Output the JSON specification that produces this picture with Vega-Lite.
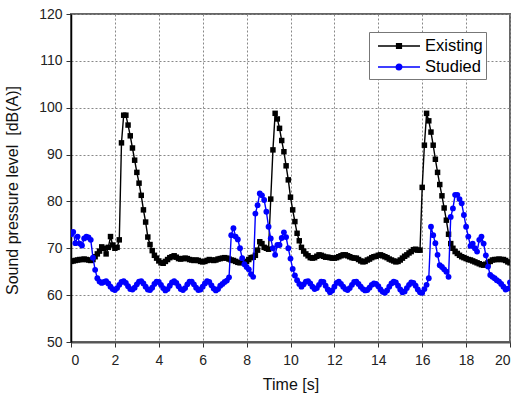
{
  "$schema": "https://vega.github.io/schema/vega-lite/v6.json",
  "width": 439,
  "height": 328,
  "autosize": {"type": "none"},
  "padding": {"left": 71, "top": 14, "right": 21, "bottom": 55},
  "background": "white",
  "config": {
    "font": "Liberation Sans",
    "view": {"stroke": "#666666", "strokeWidth": 2},
    "axis": {
      "grid": true,
      "gridDash": [2, 2],
      "gridColor": "#888888",
      "gridWidth": 1,
      "tickColor": "#333333",
      "tickSize": 5,
      "labelFontSize": 14,
      "labelColor": "#222222",
      "titleFontSize": 16,
      "titleFontWeight": "normal",
      "titleColor": "#111111"
    }
  },
  "datasets": {
    "rows": [
{"t":0.0,"spl":67.2,"series":"Existing"},{"t":0.1,"spl":67.3,"series":"Existing"},{"t":0.2,"spl":67.4,"series":"Existing"},{"t":0.3,"spl":67.5,"series":"Existing"},{"t":0.4,"spl":67.6,"series":"Existing"},{"t":0.5,"spl":67.6,"series":"Existing"},{"t":0.6,"spl":67.7,"series":"Existing"},{"t":0.7,"spl":67.6,"series":"Existing"},{"t":0.8,"spl":67.5,"series":"Existing"},{"t":0.9,"spl":67.4,"series":"Existing"},
{"t":1.0,"spl":67.6,"series":"Existing"},{"t":1.1,"spl":68.2,"series":"Existing"},{"t":1.2,"spl":68.8,"series":"Existing"},{"t":1.3,"spl":69.4,"series":"Existing"},{"t":1.4,"spl":70.3,"series":"Existing"},{"t":1.5,"spl":70.0,"series":"Existing"},{"t":1.6,"spl":68.8,"series":"Existing"},{"t":1.7,"spl":70.2,"series":"Existing"},{"t":1.8,"spl":72.5,"series":"Existing"},{"t":1.9,"spl":70.7,"series":"Existing"},
{"t":2.0,"spl":70.0,"series":"Existing"},{"t":2.1,"spl":70.2,"series":"Existing"},{"t":2.2,"spl":71.8,"series":"Existing"},{"t":2.3,"spl":92.5,"series":"Existing"},{"t":2.4,"spl":98.4,"series":"Existing"},{"t":2.5,"spl":98.4,"series":"Existing"},{"t":2.6,"spl":96.3,"series":"Existing"},{"t":2.7,"spl":94.0,"series":"Existing"},{"t":2.8,"spl":91.4,"series":"Existing"},{"t":2.9,"spl":88.8,"series":"Existing"},
{"t":3.0,"spl":86.2,"series":"Existing"},{"t":3.1,"spl":83.9,"series":"Existing"},{"t":3.2,"spl":81.3,"series":"Existing"},{"t":3.3,"spl":78.2,"series":"Existing"},{"t":3.4,"spl":75.6,"series":"Existing"},{"t":3.5,"spl":72.4,"series":"Existing"},{"t":3.6,"spl":70.8,"series":"Existing"},{"t":3.7,"spl":69.5,"series":"Existing"},{"t":3.8,"spl":68.5,"series":"Existing"},{"t":3.9,"spl":67.9,"series":"Existing"},
{"t":4.0,"spl":67.3,"series":"Existing"},{"t":4.1,"spl":66.9,"series":"Existing"},{"t":4.2,"spl":66.8,"series":"Existing"},{"t":4.3,"spl":67.2,"series":"Existing"},{"t":4.4,"spl":67.6,"series":"Existing"},{"t":4.5,"spl":68.0,"series":"Existing"},{"t":4.6,"spl":68.2,"series":"Existing"},{"t":4.7,"spl":68.4,"series":"Existing"},{"t":4.8,"spl":68.1,"series":"Existing"},{"t":4.9,"spl":67.8,"series":"Existing"},
{"t":5.0,"spl":67.7,"series":"Existing"},{"t":5.1,"spl":67.8,"series":"Existing"},{"t":5.2,"spl":67.9,"series":"Existing"},{"t":5.3,"spl":67.8,"series":"Existing"},{"t":5.4,"spl":67.6,"series":"Existing"},{"t":5.5,"spl":67.5,"series":"Existing"},{"t":5.6,"spl":67.4,"series":"Existing"},{"t":5.7,"spl":67.5,"series":"Existing"},{"t":5.8,"spl":67.4,"series":"Existing"},{"t":5.9,"spl":67.2,"series":"Existing"},
{"t":6.0,"spl":67.1,"series":"Existing"},{"t":6.1,"spl":67.2,"series":"Existing"},{"t":6.2,"spl":67.4,"series":"Existing"},{"t":6.3,"spl":67.6,"series":"Existing"},{"t":6.4,"spl":67.5,"series":"Existing"},{"t":6.5,"spl":67.4,"series":"Existing"},{"t":6.6,"spl":67.5,"series":"Existing"},{"t":6.7,"spl":67.7,"series":"Existing"},{"t":6.8,"spl":67.8,"series":"Existing"},{"t":6.9,"spl":67.9,"series":"Existing"},
{"t":7.0,"spl":68.0,"series":"Existing"},{"t":7.1,"spl":67.9,"series":"Existing"},{"t":7.2,"spl":67.7,"series":"Existing"},{"t":7.3,"spl":67.5,"series":"Existing"},{"t":7.4,"spl":67.4,"series":"Existing"},{"t":7.5,"spl":67.2,"series":"Existing"},{"t":7.6,"spl":67.0,"series":"Existing"},{"t":7.7,"spl":66.9,"series":"Existing"},{"t":7.8,"spl":67.0,"series":"Existing"},{"t":7.9,"spl":67.1,"series":"Existing"},
{"t":8.0,"spl":67.2,"series":"Existing"},{"t":8.1,"spl":67.6,"series":"Existing"},{"t":8.2,"spl":68.0,"series":"Existing"},{"t":8.3,"spl":68.1,"series":"Existing"},{"t":8.4,"spl":68.5,"series":"Existing"},{"t":8.5,"spl":69.6,"series":"Existing"},{"t":8.6,"spl":71.4,"series":"Existing"},{"t":8.7,"spl":71.0,"series":"Existing"},{"t":8.8,"spl":70.2,"series":"Existing"},{"t":8.9,"spl":70.0,"series":"Existing"},
{"t":9.0,"spl":69.8,"series":"Existing"},{"t":9.1,"spl":80.5,"series":"Existing"},{"t":9.2,"spl":91.0,"series":"Existing"},{"t":9.3,"spl":98.8,"series":"Existing"},{"t":9.4,"spl":97.6,"series":"Existing"},{"t":9.5,"spl":95.6,"series":"Existing"},{"t":9.6,"spl":93.0,"series":"Existing"},{"t":9.7,"spl":90.6,"series":"Existing"},{"t":9.8,"spl":87.6,"series":"Existing"},{"t":9.9,"spl":84.6,"series":"Existing"},
{"t":10.0,"spl":80.9,"series":"Existing"},{"t":10.1,"spl":78.2,"series":"Existing"},{"t":10.2,"spl":75.7,"series":"Existing"},{"t":10.3,"spl":73.2,"series":"Existing"},{"t":10.4,"spl":71.6,"series":"Existing"},{"t":10.5,"spl":70.2,"series":"Existing"},{"t":10.6,"spl":69.4,"series":"Existing"},{"t":10.7,"spl":68.8,"series":"Existing"},{"t":10.8,"spl":68.4,"series":"Existing"},{"t":10.9,"spl":68.0,"series":"Existing"},
{"t":11.0,"spl":67.9,"series":"Existing"},{"t":11.1,"spl":68.0,"series":"Existing"},{"t":11.2,"spl":68.3,"series":"Existing"},{"t":11.3,"spl":68.6,"series":"Existing"},{"t":11.4,"spl":68.5,"series":"Existing"},{"t":11.5,"spl":68.3,"series":"Existing"},{"t":11.6,"spl":68.1,"series":"Existing"},{"t":11.7,"spl":68.1,"series":"Existing"},{"t":11.8,"spl":68.0,"series":"Existing"},{"t":11.9,"spl":67.9,"series":"Existing"},
{"t":12.0,"spl":67.9,"series":"Existing"},{"t":12.1,"spl":68.0,"series":"Existing"},{"t":12.2,"spl":68.2,"series":"Existing"},{"t":12.3,"spl":68.4,"series":"Existing"},{"t":12.4,"spl":68.6,"series":"Existing"},{"t":12.5,"spl":68.6,"series":"Existing"},{"t":12.6,"spl":68.4,"series":"Existing"},{"t":12.7,"spl":68.2,"series":"Existing"},{"t":12.8,"spl":68.0,"series":"Existing"},{"t":12.9,"spl":67.9,"series":"Existing"},
{"t":13.0,"spl":67.9,"series":"Existing"},{"t":13.1,"spl":67.6,"series":"Existing"},{"t":13.2,"spl":67.3,"series":"Existing"},{"t":13.3,"spl":67.1,"series":"Existing"},{"t":13.4,"spl":67.2,"series":"Existing"},{"t":13.5,"spl":67.5,"series":"Existing"},{"t":13.6,"spl":67.7,"series":"Existing"},{"t":13.7,"spl":68.0,"series":"Existing"},{"t":13.8,"spl":68.2,"series":"Existing"},{"t":13.9,"spl":68.3,"series":"Existing"},
{"t":14.0,"spl":68.5,"series":"Existing"},{"t":14.1,"spl":68.6,"series":"Existing"},{"t":14.2,"spl":68.4,"series":"Existing"},{"t":14.3,"spl":68.2,"series":"Existing"},{"t":14.4,"spl":68.0,"series":"Existing"},{"t":14.5,"spl":67.7,"series":"Existing"},{"t":14.6,"spl":67.5,"series":"Existing"},{"t":14.7,"spl":67.3,"series":"Existing"},{"t":14.8,"spl":67.1,"series":"Existing"},{"t":14.9,"spl":67.2,"series":"Existing"},
{"t":15.0,"spl":67.5,"series":"Existing"},{"t":15.1,"spl":67.9,"series":"Existing"},{"t":15.2,"spl":68.3,"series":"Existing"},{"t":15.3,"spl":68.6,"series":"Existing"},{"t":15.4,"spl":69.0,"series":"Existing"},{"t":15.5,"spl":69.3,"series":"Existing"},{"t":15.6,"spl":69.7,"series":"Existing"},{"t":15.7,"spl":69.8,"series":"Existing"},{"t":15.8,"spl":69.6,"series":"Existing"},{"t":15.9,"spl":69.6,"series":"Existing"},
{"t":16.0,"spl":83.0,"series":"Existing"},{"t":16.1,"spl":92.0,"series":"Existing"},{"t":16.2,"spl":98.8,"series":"Existing"},{"t":16.3,"spl":97.2,"series":"Existing"},{"t":16.4,"spl":94.8,"series":"Existing"},{"t":16.5,"spl":92.0,"series":"Existing"},{"t":16.6,"spl":89.0,"series":"Existing"},{"t":16.7,"spl":86.2,"series":"Existing"},{"t":16.8,"spl":83.6,"series":"Existing"},{"t":16.9,"spl":81.2,"series":"Existing"},
{"t":17.0,"spl":78.6,"series":"Existing"},{"t":17.1,"spl":76.0,"series":"Existing"},{"t":17.2,"spl":73.0,"series":"Existing"},{"t":17.3,"spl":71.0,"series":"Existing"},{"t":17.4,"spl":70.0,"series":"Existing"},{"t":17.5,"spl":69.3,"series":"Existing"},{"t":17.6,"spl":68.9,"series":"Existing"},{"t":17.7,"spl":68.5,"series":"Existing"},{"t":17.8,"spl":68.2,"series":"Existing"},{"t":17.9,"spl":68.0,"series":"Existing"},
{"t":18.0,"spl":67.8,"series":"Existing"},{"t":18.1,"spl":67.6,"series":"Existing"},{"t":18.2,"spl":67.5,"series":"Existing"},{"t":18.3,"spl":67.3,"series":"Existing"},{"t":18.4,"spl":67.1,"series":"Existing"},{"t":18.5,"spl":66.9,"series":"Existing"},{"t":18.6,"spl":66.7,"series":"Existing"},{"t":18.7,"spl":66.5,"series":"Existing"},{"t":18.8,"spl":66.4,"series":"Existing"},{"t":18.9,"spl":66.6,"series":"Existing"},
{"t":19.0,"spl":66.9,"series":"Existing"},{"t":19.1,"spl":67.2,"series":"Existing"},{"t":19.2,"spl":67.5,"series":"Existing"},{"t":19.3,"spl":67.6,"series":"Existing"},{"t":19.4,"spl":67.6,"series":"Existing"},{"t":19.5,"spl":67.7,"series":"Existing"},{"t":19.6,"spl":67.6,"series":"Existing"},{"t":19.7,"spl":67.6,"series":"Existing"},{"t":19.8,"spl":67.4,"series":"Existing"},{"t":19.9,"spl":67.1,"series":"Existing"},
{"t":20.0,"spl":66.9,"series":"Existing"},
{"t":0.0,"spl":73.0,"series":"Studied"},{"t":0.1,"spl":73.5,"series":"Studied"},{"t":0.2,"spl":71.1,"series":"Studied"},{"t":0.3,"spl":72.5,"series":"Studied"},{"t":0.4,"spl":71.0,"series":"Studied"},{"t":0.5,"spl":70.6,"series":"Studied"},{"t":0.6,"spl":72.1,"series":"Studied"},{"t":0.7,"spl":72.5,"series":"Studied"},{"t":0.8,"spl":72.3,"series":"Studied"},{"t":0.9,"spl":71.8,"series":"Studied"},
{"t":1.0,"spl":68.0,"series":"Studied"},{"t":1.1,"spl":65.4,"series":"Studied"},{"t":1.2,"spl":63.6,"series":"Studied"},{"t":1.3,"spl":62.9,"series":"Studied"},{"t":1.4,"spl":62.6,"series":"Studied"},{"t":1.5,"spl":62.8,"series":"Studied"},{"t":1.6,"spl":63.0,"series":"Studied"},{"t":1.7,"spl":62.5,"series":"Studied"},{"t":1.8,"spl":61.8,"series":"Studied"},{"t":1.9,"spl":61.3,"series":"Studied"},
{"t":2.0,"spl":61.1,"series":"Studied"},{"t":2.1,"spl":61.5,"series":"Studied"},{"t":2.2,"spl":62.2,"series":"Studied"},{"t":2.3,"spl":62.8,"series":"Studied"},{"t":2.4,"spl":63.0,"series":"Studied"},{"t":2.5,"spl":62.6,"series":"Studied"},{"t":2.6,"spl":61.9,"series":"Studied"},{"t":2.7,"spl":61.3,"series":"Studied"},{"t":2.8,"spl":61.2,"series":"Studied"},{"t":2.9,"spl":61.6,"series":"Studied"},
{"t":3.0,"spl":62.3,"series":"Studied"},{"t":3.1,"spl":62.9,"series":"Studied"},{"t":3.2,"spl":63.0,"series":"Studied"},{"t":3.3,"spl":62.5,"series":"Studied"},{"t":3.4,"spl":61.8,"series":"Studied"},{"t":3.5,"spl":61.2,"series":"Studied"},{"t":3.6,"spl":61.1,"series":"Studied"},{"t":3.7,"spl":61.6,"series":"Studied"},{"t":3.8,"spl":62.4,"series":"Studied"},{"t":3.9,"spl":62.9,"series":"Studied"},
{"t":4.0,"spl":62.8,"series":"Studied"},{"t":4.1,"spl":62.2,"series":"Studied"},{"t":4.2,"spl":61.5,"series":"Studied"},{"t":4.3,"spl":61.0,"series":"Studied"},{"t":4.4,"spl":61.3,"series":"Studied"},{"t":4.5,"spl":62.0,"series":"Studied"},{"t":4.6,"spl":62.7,"series":"Studied"},{"t":4.7,"spl":63.0,"series":"Studied"},{"t":4.8,"spl":62.6,"series":"Studied"},{"t":4.9,"spl":61.9,"series":"Studied"},
{"t":5.0,"spl":61.3,"series":"Studied"},{"t":5.1,"spl":61.1,"series":"Studied"},{"t":5.2,"spl":61.5,"series":"Studied"},{"t":5.3,"spl":62.3,"series":"Studied"},{"t":5.4,"spl":62.9,"series":"Studied"},{"t":5.5,"spl":62.9,"series":"Studied"},{"t":5.6,"spl":62.3,"series":"Studied"},{"t":5.7,"spl":61.6,"series":"Studied"},{"t":5.8,"spl":61.1,"series":"Studied"},{"t":5.9,"spl":61.2,"series":"Studied"},
{"t":6.0,"spl":61.8,"series":"Studied"},{"t":6.1,"spl":62.5,"series":"Studied"},{"t":6.2,"spl":63.0,"series":"Studied"},{"t":6.3,"spl":62.8,"series":"Studied"},{"t":6.4,"spl":62.1,"series":"Studied"},{"t":6.5,"spl":61.4,"series":"Studied"},{"t":6.6,"spl":61.0,"series":"Studied"},{"t":6.7,"spl":61.3,"series":"Studied"},{"t":6.8,"spl":62.0,"series":"Studied"},{"t":6.9,"spl":62.4,"series":"Studied"},
{"t":7.0,"spl":62.8,"series":"Studied"},{"t":7.1,"spl":63.1,"series":"Studied"},{"t":7.2,"spl":63.8,"series":"Studied"},{"t":7.3,"spl":72.8,"series":"Studied"},{"t":7.4,"spl":74.3,"series":"Studied"},{"t":7.5,"spl":72.5,"series":"Studied"},{"t":7.6,"spl":71.9,"series":"Studied"},{"t":7.7,"spl":70.0,"series":"Studied"},{"t":7.8,"spl":67.9,"series":"Studied"},{"t":7.9,"spl":66.6,"series":"Studied"},
{"t":8.0,"spl":66.0,"series":"Studied"},{"t":8.1,"spl":65.5,"series":"Studied"},{"t":8.2,"spl":64.5,"series":"Studied"},{"t":8.3,"spl":63.9,"series":"Studied"},{"t":8.4,"spl":77.4,"series":"Studied"},{"t":8.5,"spl":79.2,"series":"Studied"},{"t":8.6,"spl":81.7,"series":"Studied"},{"t":8.7,"spl":81.3,"series":"Studied"},{"t":8.8,"spl":80.3,"series":"Studied"},{"t":8.9,"spl":77.8,"series":"Studied"},
{"t":9.0,"spl":74.6,"series":"Studied"},{"t":9.1,"spl":72.1,"series":"Studied"},{"t":9.2,"spl":70.0,"series":"Studied"},{"t":9.3,"spl":68.6,"series":"Studied"},{"t":9.4,"spl":70.7,"series":"Studied"},{"t":9.5,"spl":70.7,"series":"Studied"},{"t":9.6,"spl":72.2,"series":"Studied"},{"t":9.7,"spl":73.4,"series":"Studied"},{"t":9.8,"spl":72.4,"series":"Studied"},{"t":9.9,"spl":70.0,"series":"Studied"},
{"t":10.0,"spl":67.8,"series":"Studied"},{"t":10.1,"spl":65.6,"series":"Studied"},{"t":10.2,"spl":64.2,"series":"Studied"},{"t":10.3,"spl":63.2,"series":"Studied"},{"t":10.4,"spl":62.4,"series":"Studied"},{"t":10.5,"spl":61.8,"series":"Studied"},{"t":10.6,"spl":62.3,"series":"Studied"},{"t":10.7,"spl":62.9,"series":"Studied"},{"t":10.8,"spl":63.0,"series":"Studied"},{"t":10.9,"spl":62.5,"series":"Studied"},
{"t":11.0,"spl":61.8,"series":"Studied"},{"t":11.1,"spl":61.3,"series":"Studied"},{"t":11.2,"spl":61.5,"series":"Studied"},{"t":11.3,"spl":62.2,"series":"Studied"},{"t":11.4,"spl":62.9,"series":"Studied"},{"t":11.5,"spl":62.8,"series":"Studied"},{"t":11.6,"spl":62.0,"series":"Studied"},{"t":11.7,"spl":61.2,"series":"Studied"},{"t":11.8,"spl":60.6,"series":"Studied"},{"t":11.9,"spl":61.0,"series":"Studied"},
{"t":12.0,"spl":61.8,"series":"Studied"},{"t":12.1,"spl":62.6,"series":"Studied"},{"t":12.2,"spl":62.9,"series":"Studied"},{"t":12.3,"spl":62.4,"series":"Studied"},{"t":12.4,"spl":61.8,"series":"Studied"},{"t":12.5,"spl":61.3,"series":"Studied"},{"t":12.6,"spl":61.1,"series":"Studied"},{"t":12.7,"spl":61.5,"series":"Studied"},{"t":12.8,"spl":62.2,"series":"Studied"},{"t":12.9,"spl":62.8,"series":"Studied"},
{"t":13.0,"spl":62.9,"series":"Studied"},{"t":13.1,"spl":62.4,"series":"Studied"},{"t":13.2,"spl":61.8,"series":"Studied"},{"t":13.3,"spl":61.3,"series":"Studied"},{"t":13.4,"spl":61.0,"series":"Studied"},{"t":13.5,"spl":61.1,"series":"Studied"},{"t":13.6,"spl":61.6,"series":"Studied"},{"t":13.7,"spl":62.2,"series":"Studied"},{"t":13.8,"spl":62.5,"series":"Studied"},{"t":13.9,"spl":62.4,"series":"Studied"},
{"t":14.0,"spl":61.9,"series":"Studied"},{"t":14.1,"spl":61.2,"series":"Studied"},{"t":14.2,"spl":60.7,"series":"Studied"},{"t":14.3,"spl":60.5,"series":"Studied"},{"t":14.4,"spl":61.0,"series":"Studied"},{"t":14.5,"spl":61.8,"series":"Studied"},{"t":14.6,"spl":62.5,"series":"Studied"},{"t":14.7,"spl":62.9,"series":"Studied"},{"t":14.8,"spl":62.7,"series":"Studied"},{"t":14.9,"spl":62.0,"series":"Studied"},
{"t":15.0,"spl":61.2,"series":"Studied"},{"t":15.1,"spl":60.6,"series":"Studied"},{"t":15.2,"spl":60.8,"series":"Studied"},{"t":15.3,"spl":61.5,"series":"Studied"},{"t":15.4,"spl":62.2,"series":"Studied"},{"t":15.5,"spl":62.7,"series":"Studied"},{"t":15.6,"spl":62.6,"series":"Studied"},{"t":15.7,"spl":62.0,"series":"Studied"},{"t":15.8,"spl":61.2,"series":"Studied"},{"t":15.9,"spl":60.6,"series":"Studied"},
{"t":16.0,"spl":60.5,"series":"Studied"},{"t":16.1,"spl":61.3,"series":"Studied"},{"t":16.2,"spl":62.2,"series":"Studied"},{"t":16.3,"spl":63.6,"series":"Studied"},{"t":16.4,"spl":74.6,"series":"Studied"},{"t":16.5,"spl":72.8,"series":"Studied"},{"t":16.6,"spl":71.1,"series":"Studied"},{"t":16.7,"spl":68.6,"series":"Studied"},{"t":16.8,"spl":66.4,"series":"Studied"},{"t":16.9,"spl":66.0,"series":"Studied"},
{"t":17.0,"spl":65.5,"series":"Studied"},{"t":17.1,"spl":65.0,"series":"Studied"},{"t":17.2,"spl":63.9,"series":"Studied"},{"t":17.3,"spl":76.7,"series":"Studied"},{"t":17.4,"spl":78.5,"series":"Studied"},{"t":17.5,"spl":81.4,"series":"Studied"},{"t":17.6,"spl":81.4,"series":"Studied"},{"t":17.7,"spl":80.5,"series":"Studied"},{"t":17.8,"spl":79.6,"series":"Studied"},{"t":17.9,"spl":77.1,"series":"Studied"},
{"t":18.0,"spl":74.6,"series":"Studied"},{"t":18.1,"spl":72.5,"series":"Studied"},{"t":18.2,"spl":70.5,"series":"Studied"},{"t":18.3,"spl":71.0,"series":"Studied"},{"t":18.4,"spl":70.0,"series":"Studied"},{"t":18.5,"spl":69.3,"series":"Studied"},{"t":18.6,"spl":71.8,"series":"Studied"},{"t":18.7,"spl":72.5,"series":"Studied"},{"t":18.8,"spl":71.0,"series":"Studied"},{"t":18.9,"spl":68.5,"series":"Studied"},
{"t":19.0,"spl":66.1,"series":"Studied"},{"t":19.1,"spl":64.3,"series":"Studied"},{"t":19.2,"spl":63.9,"series":"Studied"},{"t":19.3,"spl":63.6,"series":"Studied"},{"t":19.4,"spl":63.2,"series":"Studied"},{"t":19.5,"spl":62.9,"series":"Studied"},{"t":19.6,"spl":62.4,"series":"Studied"},{"t":19.7,"spl":61.8,"series":"Studied"},{"t":19.8,"spl":61.2,"series":"Studied"},{"t":19.9,"spl":61.4,"series":"Studied"},
{"t":20.0,"spl":62.7,"series":"Studied"}
    ]
  },
  "data": {"name": "rows"},
  "encoding": {
    "x": {
      "field": "t", "type": "quantitative",
      "scale": {"domain": [0, 20], "nice": false},
      "axis": {"values": [0,2,4,6,8,10,12,14,16,18,20], "title": "Time [s]", "labelPadding": 6, "titlePadding": 9, "domainColor": "#555555", "domainWidth": 2}
    },
    "y": {
      "field": "spl", "type": "quantitative",
      "scale": {"domain": [50, 120], "nice": false, "zero": false},
      "axis": {"values": [50,60,70,80,90,100,110,120], "title": "Sound pressure level\u00a0 [dB(A)]", "labelPadding": 4, "domainColor": "#000000", "domainWidth": 1.5, "titleX": -51, "titleY": 176, "titleAngle": -90}
    },
    "color": {
      "field": "series", "type": "nominal",
      "scale": {"domain": ["Existing", "Studied"], "range": ["#000000", "#0000ff"]},
      "legend": {
        "orient": "none", "legendX": 298, "legendY": 18, "title": null,
        "padding": 3, "symbolOffset": 5, "symbolSize": 400, "labelOffset": 26,
        "labelFontSize": 16.5, "labelColor": "#000000", "strokeColor": "#777777", "fillColor": "white",
        "rowPadding": 1,
        "encode": {
          "symbols": {
            "update": {
              "shape": {"signal": "datum.value === 'Existing' ? 'M-1,0H3.2M0.86,-0.24H1.34V0.24H0.86Z' : 'M-1,0H0.82A0.28,0.28 0 1,1 1.38,0A0.28,0.28 0 1,1 0.82,0M1.38,0H3.2'"},
              "fill": {"signal": "datum.value === 'Existing' ? '#000000' : '#0000ff'"},
              "stroke": {"signal": "datum.value === 'Existing' ? '#000000' : '#0000ff'"},
              "strokeWidth": {"value": 1.4},
              "opacity": {"value": 1},
              "fillOpacity": {"value": 1}
            }
          }
        }
      }
    }
  },
  "layer": [
    {
      "transform": [{"filter": "datum.series === 'Existing'"}],
      "mark": {"type": "line", "strokeWidth": 1.4, "clip": true}
    },
    {
      "transform": [{"filter": "datum.series === 'Existing'"}],
      "mark": {"type": "point", "shape": "square", "filled": true, "size": 30, "opacity": 1, "clip": true}
    },
    {
      "transform": [{"filter": "datum.series === 'Studied'"}],
      "mark": {"type": "line", "strokeWidth": 1.4, "clip": true}
    },
    {
      "transform": [{"filter": "datum.series === 'Studied'"}],
      "mark": {"type": "point", "shape": "circle", "filled": true, "size": 34, "opacity": 1, "clip": true}
    }
  ]
}
